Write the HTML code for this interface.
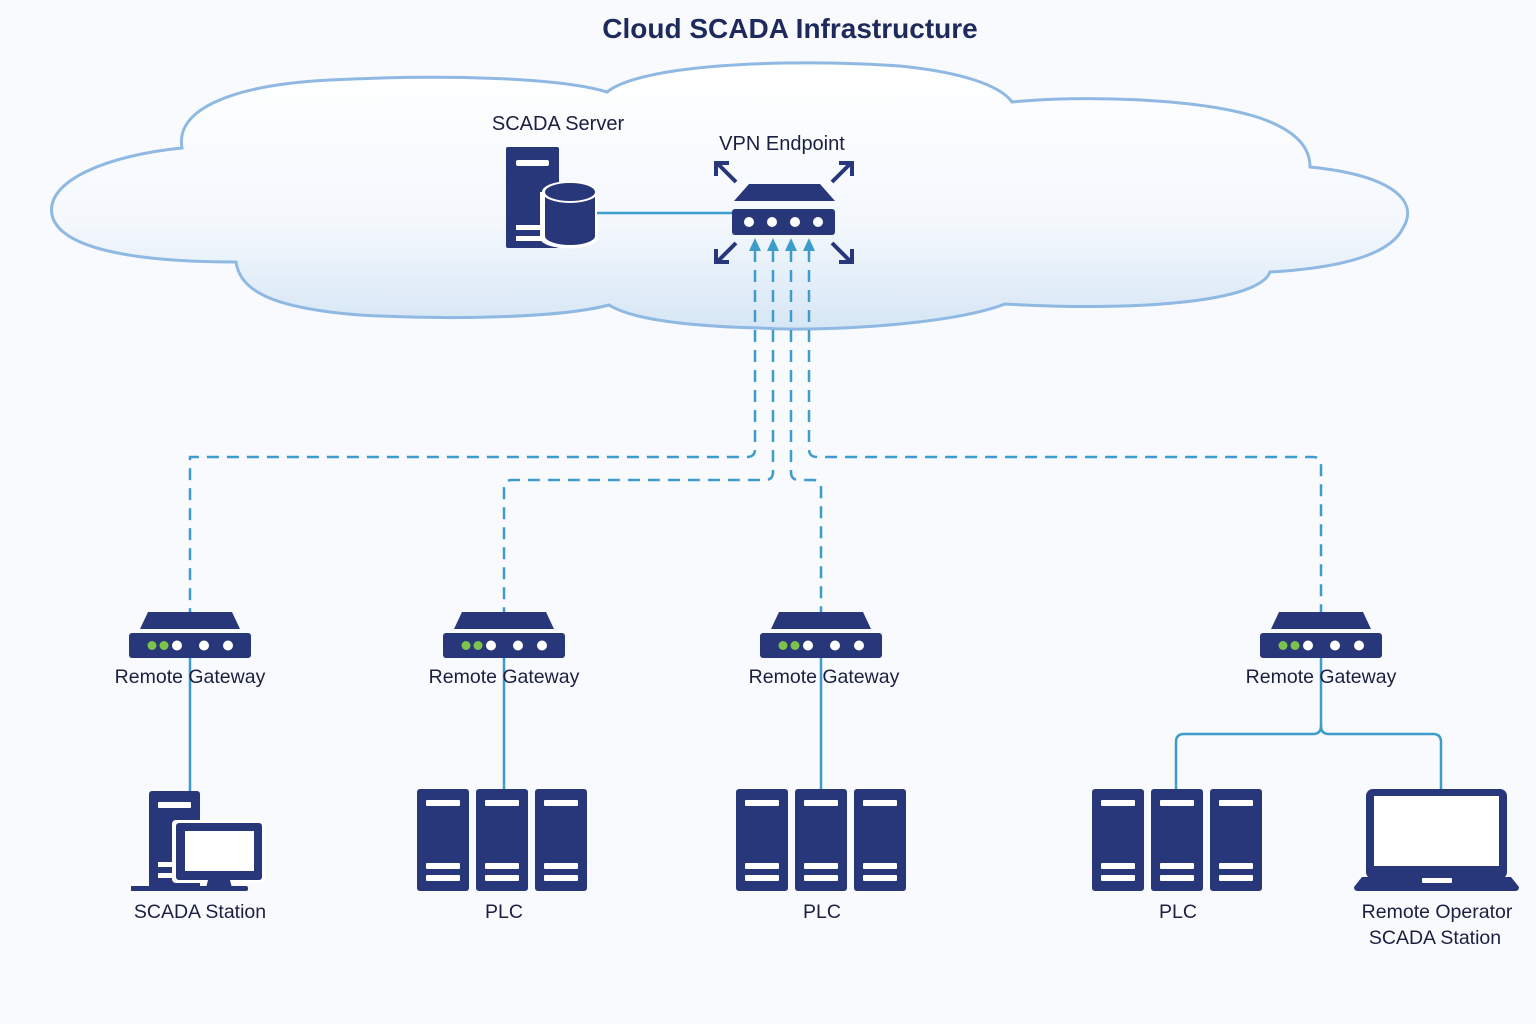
<!DOCTYPE html>
<html><head><meta charset="utf-8"><style>
html,body{margin:0;padding:0;background:#f9fafd;}
svg{display:block;font-family:"Liberation Sans",sans-serif;}
</style></head><body>
<svg width="1536" height="1024" viewBox="0 0 1536 1024" xmlns="http://www.w3.org/2000/svg">
<defs>
<linearGradient id="cg" x1="0" y1="0" x2="0" y2="1">
<stop offset="0" stop-color="#ffffff"/><stop offset="0.6" stop-color="#f4f8fd"/><stop offset="1" stop-color="#d6e6f5"/>
</linearGradient>
<g id="gw">
<polygon points="-50,629 50,629 42,612 -42,612" fill="#27377a"/>
<rect x="-61" y="633" width="122" height="25" rx="3" fill="#27377a"/>
<circle cx="-38" cy="645.5" r="4.5" fill="#7dc24b"/>
<circle cx="-26" cy="645.5" r="4.5" fill="#7dc24b"/>
<circle cx="-13" cy="645.5" r="5" fill="#fff"/>
<circle cx="14" cy="645.5" r="5" fill="#fff"/>
<circle cx="38" cy="645.5" r="5" fill="#fff"/>
</g>
<g id="rack">
<rect x="0" y="789" width="52" height="102" rx="3" fill="#27377a"/>
<rect x="9" y="800" width="34" height="6" rx="1" fill="#fff"/>
<rect x="9" y="863" width="34" height="6" rx="1" fill="#fff"/>
<rect x="9" y="875" width="34" height="6" rx="1" fill="#fff"/>
</g>
<g id="plc">
<use href="#rack" x="0"/><use href="#rack" x="59"/><use href="#rack" x="118"/>
</g>
</defs>

<text x="790" y="38" text-anchor="middle" font-size="28" font-weight="bold" fill="#1e2a5c">Cloud SCADA Infrastructure</text>

<path d="M 182,148 C 175,110 230,85 330,80 C 450,74 560,78 607,92 C 640,65 780,58 900,66 C 960,72 1000,85 1012,102 C 1080,95 1200,98 1260,118 C 1300,132 1310,150 1310,167 C 1390,175 1420,200 1403,228 C 1390,255 1340,268 1270,272 C 1260,300 1150,312 1005,304 C 950,325 820,332 760,328 C 680,326 630,318 609,305 C 560,318 450,320 360,315 C 270,308 240,290 236,262 C 140,262 60,250 52,215 C 45,180 110,155 182,148 Z" fill="url(#cg)" stroke="#8fb9e2" stroke-width="3"/>

<text x="558" y="130" text-anchor="middle" font-size="20" fill="#1a2040">SCADA Server</text>
<text x="782" y="150" text-anchor="middle" font-size="20" fill="#1a2040">VPN Endpoint</text>

<rect x="506" y="147" width="53" height="101" rx="2" fill="#27377a"/>
<rect x="516" y="160" width="33" height="6" rx="2" fill="#fff"/>
<rect x="516" y="225" width="30" height="5" fill="#fff"/>
<rect x="516" y="236" width="30" height="5" fill="#fff"/>
<path d="M540,192 v46 a28,10 0 0 0 58,0 v-46 z" fill="#fff"/>
<path d="M545,192 v44 a25,9 0 0 0 50,0 v-44 z" fill="#27377a"/>
<ellipse cx="570" cy="192" rx="28" ry="11" fill="#fff"/>
<ellipse cx="570" cy="192" rx="25" ry="9" fill="#27377a"/>
<line x1="597" y1="213" x2="734" y2="213" stroke="#3d9ccc" stroke-width="2.5"/>

<polygon points="734,201 835,201 820,184 749,184" fill="#27377a"/>
<rect x="732" y="209" width="103" height="26" rx="3" fill="#27377a"/>
<circle cx="749" cy="222" r="5" fill="#fff"/><circle cx="772" cy="222" r="5" fill="#fff"/>
<circle cx="795" cy="222" r="5" fill="#fff"/><circle cx="818" cy="222" r="5" fill="#fff"/>
<g stroke="#27377a" stroke-width="4" fill="none">
<path d="M736,182 L718,164 M716,176 V163 H729"/>
<path d="M832,182 L850,164 M852,176 V163 H839"/>
<path d="M736,243 L718,261 M716,249 V262 H729"/>
<path d="M832,243 L850,261 M852,249 V262 H839"/>
</g>

<g stroke="#3d9ccc" stroke-width="2.5" fill="none" stroke-dasharray="12,8">
<path d="M755,250 V449 Q755,457 747,457 H190 V612"/>
<path d="M773,250 V472 Q773,480 765,480 H512 Q504,480 504,488 V612"/>
<path d="M791,250 V472 Q791,480 799,480 H813 Q821,480 821,488 V612"/>
<path d="M809,250 V449 Q809,457 817,457 H1313 Q1321,457 1321,465 V612"/>
</g>
<g fill="#3d9ccc">
<polygon points="755,238 749,251 761,251"/>
<polygon points="773,238 767,251 779,251"/>
<polygon points="791,238 785,251 797,251"/>
<polygon points="809,238 803,251 815,251"/>
</g>

<g stroke="#3d9ccc" stroke-width="2.5" fill="none">
<line x1="190" y1="658" x2="190" y2="792"/>
<line x1="504" y1="658" x2="504" y2="789"/>
<line x1="821" y1="658" x2="821" y2="789"/>
<path d="M1321,658 V726 Q1321,734 1313,734 H1184 Q1176,734 1176,742 V789"/>
<path d="M1321,726 Q1321,734 1329,734 H1433 Q1441,734 1441,742 V790"/>
</g>

<use href="#gw" x="190"/><use href="#gw" x="504"/><use href="#gw" x="821"/><use href="#gw" x="1321"/>
<g font-size="19.5" fill="#1a2040" text-anchor="middle">
<text x="190" y="683">Remote Gateway</text>
<text x="504" y="683">Remote Gateway</text>
<text x="824" y="683">Remote Gateway</text>
<text x="1321" y="683">Remote Gateway</text>
</g>

<rect x="149" y="791" width="51" height="100" rx="3" fill="#27377a"/>
<rect x="158" y="802" width="33" height="6" rx="1" fill="#fff"/>
<rect x="158" y="862" width="20" height="5" fill="#fff"/>
<rect x="158" y="873" width="20" height="5" fill="#fff"/>
<rect x="131" y="886" width="60" height="5" fill="#27377a"/>
<rect x="172" y="820" width="93" height="63" rx="4" fill="#fff"/>
<rect x="176" y="823" width="86" height="57" rx="3" fill="#27377a"/>
<rect x="185" y="831" width="69" height="40" fill="#fff"/>
<polygon points="208,880 230,880 232,888 206,888" fill="#27377a"/>
<rect x="190" y="886" width="58" height="5" rx="2" fill="#27377a"/>

<use href="#plc" x="417"/>
<use href="#plc" x="736"/>
<use href="#plc" x="1092"/>

<rect x="1366" y="789" width="141" height="90" rx="7" fill="#27377a"/>
<rect x="1374" y="796" width="125" height="70" fill="#fff"/>
<path d="M1362,877 H1511 L1519,887 Q1519,891 1515,891 H1358 Q1354,891 1354,887 Z" fill="#27377a"/>
<rect x="1422" y="878" width="30" height="5" rx="1" fill="#fff"/>

<g font-size="19.5" fill="#1a2040" text-anchor="middle">
<text x="200" y="918">SCADA Station</text>
<text x="504" y="918">PLC</text>
<text x="822" y="918">PLC</text>
<text x="1178" y="918">PLC</text>
<text x="1437" y="918">Remote Operator</text>
<text x="1435" y="944">SCADA Station</text>
</g>
</svg>
</body></html>
